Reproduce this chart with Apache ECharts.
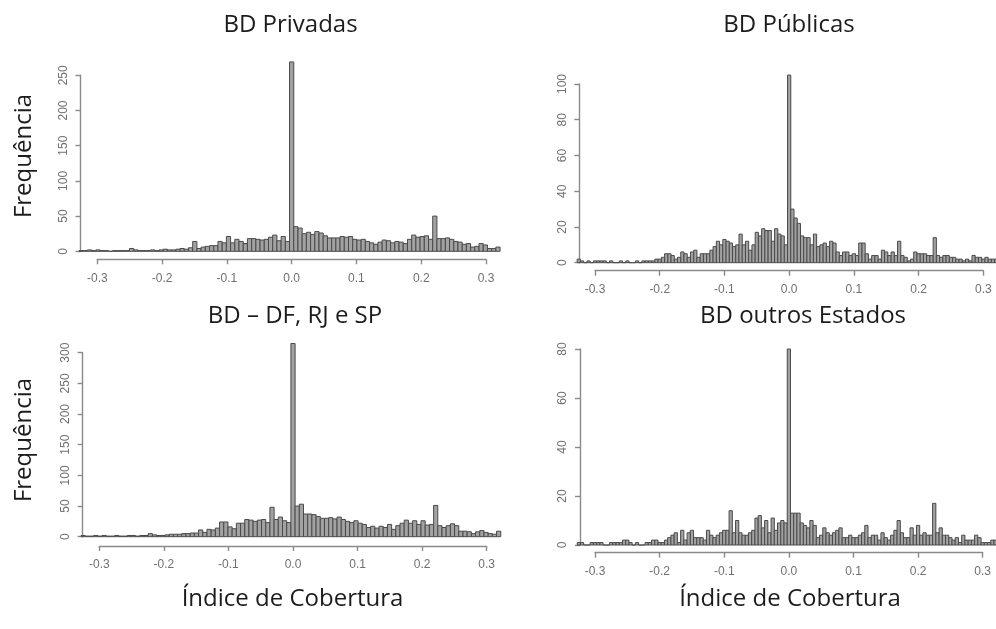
<!DOCTYPE html>
<html><head><meta charset="utf-8">
<script src="https://cdn.jsdelivr.net/npm/echarts@6/dist/echarts.min.js"></script>
<style>html,body{margin:0;padding:0;background:#fff}#c{width:996px;height:629px}</style>
</head><body><div id="c"></div>
<script>
// ---- text ----
const panelTitles = ['BD Privadas', 'BD Públicas', 'BD – DF, RJ e SP', 'BD outros Estados'];
const yTitle = 'Frequência';
const xTitle = 'Índice de Cobertura';
// ---- axes ----
const xMin = -0.3, xMax = 0.3, xStep = 0.1;
const yMaxTick = [250, 100, 300, 80];
const yStepTick = [50, 20, 50, 20];
// ---- bins ----
const leftBinWidth = 0.0065, leftFirstCenter = -0.325;   // left column panels
const rightBinWidth = 0.005, rightFirstCenter = -0.325;  // right column panels
// ---- counts ----
const privadas = [
  1,1,2,1,2,1,1,0,1,1,1,
  1,4,2,1,1,1,2,1,2,
  3,2,2,3,4,3,5,
  14,
  4,6,7,8,8,14,12,
  21,12,17,14,11,18,18,17,16,17,20,23,15,21,14,
  269,
  35,33,25,27,24,28,26,22,19,19,
  19,21,20,21,17,16,17,14,12,10,
  13,16,15,12,14,13,11,17,23,20,
  21,22,17,50,18,18,19,17,14,13,
  10,11,6,7,11,9,4,4,6
];
const publicas = [
  2,1,0,1,0,1,1,1,1,0,1,0,0,1,0,1,0,0,1,0,
  1,1,1,1,2,2,3,5,5,4,
  2,3,6,5,3,6,7,3,5,5,
  5,7,9,12,10,13,12,11,9,10,
  16,10,12,7,10,17,15,19,18,18,12,19,16,15,10,
  105,
  30,25,22,15,14,14,10,16,9,10,
  11,9,12,11,6,4,6,6,4,5,
  4,11,11,5,2,4,4,2,7,6,
  4,6,4,12,4,3,1,2,6,5,
  5,5,4,4,14,4,3,4,4,3,
  3,2,2,1,2,1,4,3,3,2,3,2,2,2
];
const dfRjSp = [
  2,1,1,2,1,2,1,1,2,1,1,
  2,2,1,2,2,5,3,2,2,
  3,4,4,4,5,5,6,
  6,
  11,7,12,11,14,24,24,16,13,22,22,28,27,25,
  27,28,23,48,28,32,26,23,
  315,
  50,53,37,37,36,33,30,30,31,29,
  32,28,25,23,26,22,20,15,17,14,
  17,15,20,12,18,22,27,22,26,20,
  26,19,20,51,18,15,18,21,18,9,
  9,8,5,8,10,7,5,4,9
];
const outros = [
  1,1,0,0,1,1,1,1,0,0,1,1,1,1,2,2,1,0,1,0,
  0,1,1,2,2,1,1,2,3,4,
  5,1,6,2,5,6,3,3,3,2,
  6,4,3,4,5,6,6,14,5,10,
  5,4,4,5,6,11,12,7,10,5,11,6,9,10,9,
  80,
  13,13,13,9,8,7,10,8,3,4,
  7,5,4,5,6,7,3,3,4,3,
  3,4,5,8,3,4,4,2,5,3,
  2,4,6,10,5,3,3,7,4,8,
  4,5,4,4,17,5,7,4,4,3,
  2,3,1,4,2,2,2,4,3,1,1,1,2,2
];

const panels = [
  {counts: privadas, w: leftBinWidth,  c0: leftFirstCenter},
  {counts: publicas, w: rightBinWidth, c0: rightFirstCenter},
  {counts: dfRjSp,   w: leftBinWidth,  c0: leftFirstCenter},
  {counts: outros,   w: rightBinWidth, c0: rightFirstCenter}
];
// layout (pixels)
const grids = [
  {left: 97.3, top: 75.3, width: 388.7, height: 176},
  {left: 595,  top: 84,   width: 388.3, height: 178.7},
  {left: 99.3, top: 352.7, width: 387.4, height: 184},
  {left: 595,  top: 349,  width: 387.7, height: 196}
];
const yOffsets = [16.8, 15.7, 16.6, 15];
const xOffsets = [8, 8, 9.3, 7.7];

const axisColor = '#8a8a8a';
const labelColor = '#707070';
const tickFont = 'Liberation Sans';
const textFont = '"Open Sans"';

const chart = echarts.init(document.getElementById('c'), null, {renderer: 'canvas'});

const option = {
  animation: false,
  backgroundColor: '#fff',
  grid: grids.map(g => Object.assign({containLabel: false}, g)),
  xAxis: grids.map((g, i) => ({
    gridIndex: i, type: 'value', min: xMin, max: xMax, interval: xStep,
    position: 'bottom',
    offset: xOffsets[i],
    axisLine: {show: true, onZero: false, lineStyle: {color: axisColor, width: 1.4}},
    axisTick: {show: true, length: 5, lineStyle: {color: axisColor, width: 1.4}},
    axisLabel: {
      color: labelColor, fontSize: 12, fontFamily: tickFont, margin: 13,
      formatter: v => (Math.abs(v) < 1e-9 ? '0.0' : v.toFixed(1))
    },
    splitLine: {show: false}
  })),
  yAxis: grids.map((g, i) => ({
    gridIndex: i, type: 'value', min: 0, max: yMaxTick[i], interval: yStepTick[i],
    position: 'left',
    offset: yOffsets[i],
    axisLine: {show: true, onZero: false, lineStyle: {color: axisColor, width: 1.4}},
    axisTick: {show: true, length: 5, lineStyle: {color: axisColor, width: 1.4}},
    axisLabel: {color: labelColor, fontSize: 12, fontFamily: tickFont, rotate: 90, margin: 11},
    splitLine: {show: false}
  })),
  series: panels.map((p, i) => ({
    type: 'custom',
    xAxisIndex: i, yAxisIndex: i,
    clip: false,
    data: p.counts.map((v, k) => [p.c0 + k * p.w, v]),
    renderItem: function (params, api) {
      const c = api.value(0), v = api.value(1);
      const a = api.coord([c - p.w / 2, v]);
      const b = api.coord([c + p.w / 2, 0]);
      return {
        type: 'rect',
        shape: {x: a[0], y: a[1], width: b[0] - a[0], height: b[1] - a[1]},
        style: {fill: '#a2a2a2', stroke: '#4a4a4a', lineWidth: 1}
      };
    }
  })),
  graphic: [
    {type: 'text', x: 290.5, y: 25.5, style: {text: panelTitles[0], font: '24px ' + textFont, fill: '#1c1c1c', align: 'center', verticalAlign: 'middle'}},
    {type: 'text', x: 789,   y: 25.5, style: {text: panelTitles[1], font: '24px ' + textFont, fill: '#1c1c1c', align: 'center', verticalAlign: 'middle'}},
    {type: 'text', x: 295,   y: 316.5, style: {text: panelTitles[2], font: '24px ' + textFont, fill: '#1c1c1c', align: 'center', verticalAlign: 'middle'}},
    {type: 'text', x: 803,   y: 316.5, style: {text: panelTitles[3], font: '24px ' + textFont, fill: '#1c1c1c', align: 'center', verticalAlign: 'middle'}},
    {type: 'text', x: 24, y: 156, rotation: Math.PI / 2, style: {text: yTitle, font: '24px ' + textFont, fill: '#1c1c1c', align: 'center', verticalAlign: 'middle'}},
    {type: 'text', x: 24, y: 440, rotation: Math.PI / 2, style: {text: yTitle, font: '24px ' + textFont, fill: '#1c1c1c', align: 'center', verticalAlign: 'middle'}},
    {type: 'text', x: 292.5, y: 599, style: {text: xTitle, font: '24px ' + textFont, fill: '#1c1c1c', align: 'center', verticalAlign: 'middle'}},
    {type: 'text', x: 790,   y: 599, style: {text: xTitle, font: '24px ' + textFont, fill: '#1c1c1c', align: 'center', verticalAlign: 'middle'}}
  ]
};
chart.setOption(option);
</script>
</body></html>
